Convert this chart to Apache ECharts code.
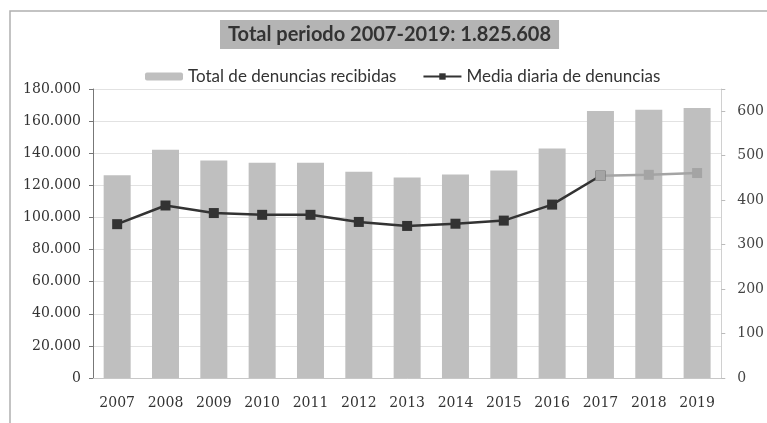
<!DOCTYPE html>
<html>
<head>
<meta charset="utf-8">
<title>Denuncias 2007-2019</title>
<script src="https://cdn.jsdelivr.net/npm/echarts@6/dist/echarts.min.js"></script>
<style>
  body { margin: 0; background: #fff; }
  #main { width: 767px; height: 423px; }
</style>
</head>
<body>
<div id="main"></div>
<script type="text/javascript">
    // datos
    var years = ['2007', '2008', '2009', '2010', '2011', '2012', '2013', '2014', '2015', '2016', '2017', '2018', '2019'];
    var totalDenuncias = [126300, 142100, 135500, 134100, 134000, 128500, 124900, 126700, 129200, 142900, 166300, 167000, 168200];
    var mediaDiaria = [346, 388, 371, 367, 367, 351, 342, 347, 354, 390, 455, 457, 461];
    var leftTicks = [0, 20000, 40000, 60000, 80000, 100000, 120000, 140000, 160000, 180000];
    var rightTicks = [0, 100, 200, 300, 400, 500, 600];
    var corte = 10; // desde 2017 la linea es gris

    var mediaOscura = mediaDiaria.map((v, i) => i <= corte ? v : null);
    var mediaClara = mediaDiaria.map((v, i) => i >= corte ? v : null);

    function puntos(v) {
        return String(v).replace(/\B(?=(\d{3})+(?!\d))/g, '.');
    }

    var font = 'Lato, "Open Sans", sans-serif';
    var numFont = '"DejaVu Serif", serif';
    var chart = echarts.init(document.getElementById('main'));
    chart.setOption({
        animation: false,
        backgroundColor: '#fff',
        title: {
            text: 'Total periodo 2007-2019: 1.825.608',
            left: 220,
            top: 20,
            padding: [5, 8, 4, 8],
            backgroundColor: '#b4b4b4',
            textStyle: { fontFamily: font, fontSize: 20, fontWeight: 'bold', color: '#333' }
        },
        legend: {
            data: ['Total de denuncias recibidas', 'Media diaria de denuncias'],
            left: 140,
            top: 63,
            itemWidth: 38,
            itemHeight: 8,
            itemGap: 26,
            textStyle: { fontFamily: font, fontSize: 17, color: '#333' }
        },
        graphic: [{
            type: 'rect',
            shape: { x: 10, y: 11, width: 800, height: 500 },
            style: { fill: 'none', stroke: '#b0b0b0', lineWidth: 1.5 },
            silent: true
        }],
        grid: { left: 93, right: 45, top: 89, bottom: 45 },
        xAxis: {
            type: 'category',
            data: years,
            axisLine: { lineStyle: { color: '#c8c8c8' } },
            axisTick: { show: false },
            axisLabel: { fontFamily: numFont, fontSize: 14, color: '#333', margin: 18 }
        },
        yAxis: [{
            type: 'value',
            min: leftTicks[0],
            max: leftTicks[leftTicks.length - 1],
            interval: 20000,
            axisLine: { show: true, lineStyle: { color: '#777' } },
            axisTick: { show: true, length: 4, lineStyle: { color: '#777' } },
            splitLine: { lineStyle: { color: '#e2e2e2' } },
            axisLabel: { fontFamily: numFont, fontSize: 14, color: '#333', margin: 12, formatter: puntos }
        }, {
            type: 'value',
            min: 0,
            max: 650,
            interval: 100,
            axisLine: { show: true, lineStyle: { color: '#d0d0d0' } },
            axisTick: { show: true, length: 4, lineStyle: { color: '#bbb' } },
            splitLine: { show: false },
            axisLabel: {
                fontFamily: numFont, fontSize: 14, color: '#444', margin: 16,
                formatter: v => rightTicks.indexOf(v) >= 0 ? String(v) : ''
            }
        }],
        series: [{
            name: 'Total de denuncias recibidas',
            type: 'bar',
            data: totalDenuncias,
            barWidth: 27,
            itemStyle: { color: '#bfbfbf' }
        }, {
            name: 'Media diaria de denuncias',
            type: 'line',
            yAxisIndex: 1,
            data: mediaOscura,
            symbol: 'rect',
            symbolSize: 10,
            lineStyle: { color: '#333', width: 2.5 },
            itemStyle: { color: '#333' }
        }, {
            name: 'Media clara',
            type: 'line',
            yAxisIndex: 1,
            data: mediaClara,
            symbol: 'rect',
            symbolSize: 10,
            lineStyle: { color: '#a4a4a4', width: 2.5 },
            itemStyle: { color: '#a4a4a4' }
        }]
    });
</script>
</body>
</html>
